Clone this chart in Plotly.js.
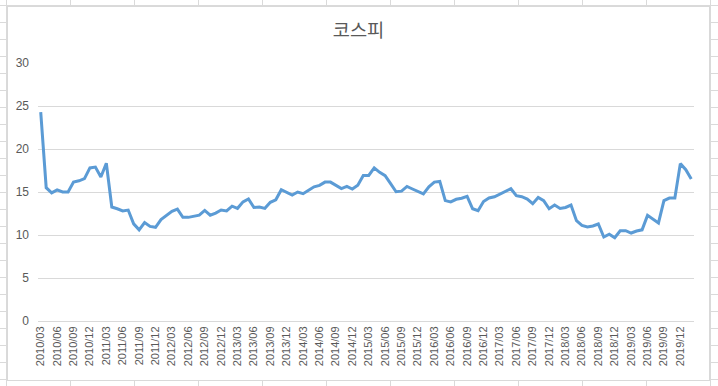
<!DOCTYPE html>
<html>
<head>
<meta charset="utf-8">
<script src="https://cdn.plot.ly/plotly-3.0.1.min.js"></script>
<style>
  html, body { margin: 0; padding: 0; width: 718px; height: 386px; overflow: hidden; }
  body {
    background-color: #ffffff;
    background-image:
      repeating-linear-gradient(to right, transparent 0px, transparent 6px, #dadada 6px, #dadada 7px, transparent 7px, transparent 64px),
      repeating-linear-gradient(to bottom, transparent 0px, transparent 5px, #dadada 5px, #dadada 6px, transparent 6px, transparent 17px);
  }
  #frame {
    position: absolute; left: 7px; top: 6px; width: 701px; height: 373px;
    border: 1px solid #d9d9d9; background: #ffffff;
  }
  #chart { width: 701px; height: 373px; }
</style>
</head>
<body>
<div id="frame"><div id="chart"></div></div>
<script>
// Months (categories)
const months = [
  "2010/03","2010/04","2010/05","2010/06","2010/07","2010/08","2010/09","2010/10","2010/11","2010/12",
  "2011/01","2011/02","2011/03","2011/04","2011/05","2011/06","2011/07","2011/08","2011/09","2011/10","2011/11","2011/12",
  "2012/01","2012/02","2012/03","2012/04","2012/05","2012/06","2012/07","2012/08","2012/09","2012/10","2012/11","2012/12",
  "2013/01","2013/02","2013/03","2013/04","2013/05","2013/06","2013/07","2013/08","2013/09","2013/10","2013/11","2013/12",
  "2014/01","2014/02","2014/03","2014/04","2014/05","2014/06","2014/07","2014/08","2014/09","2014/10","2014/11","2014/12",
  "2015/01","2015/02","2015/03","2015/04","2015/05","2015/06","2015/07","2015/08","2015/09","2015/10","2015/11","2015/12",
  "2016/01","2016/02","2016/03","2016/04","2016/05","2016/06","2016/07","2016/08","2016/09","2016/10","2016/11","2016/12",
  "2017/01","2017/02","2017/03","2017/04","2017/05","2017/06","2017/07","2017/08","2017/09","2017/10","2017/11","2017/12",
  "2018/01","2018/02","2018/03","2018/04","2018/05","2018/06","2018/07","2018/08","2018/09","2018/10","2018/11","2018/12",
  "2019/01","2019/02","2019/03","2019/04","2019/05","2019/06","2019/07","2019/08","2019/09","2019/10","2019/11","2019/12",
  "2020/01","2020/02"
];

// KOSPI values
const kospi = [
  24.3, 15.5, 14.9, 15.25, 15.0, 15.0, 16.15, 16.3, 16.55, 17.8,
  17.9, 16.75, 18.35, 13.25, 13.05, 12.8, 12.9, 11.3, 10.6, 11.45, 11.0, 10.9,
  11.8, 12.25, 12.75, 13.0, 12.05, 12.05, 12.15, 12.3, 12.85, 12.3, 12.55, 12.9,
  12.8, 13.35, 13.1, 13.85, 14.2, 13.2, 13.25, 13.1, 13.8, 14.1, 15.27, 15.0,
  14.65, 15.0, 14.8, 15.2, 15.6, 15.77, 16.15, 16.15, 15.77, 15.4, 15.65, 15.35,
  15.8, 16.93, 16.93, 17.8, 17.28, 16.9, 15.97, 15.03, 15.1, 15.65, 15.35, 15.1,
  14.77, 15.6, 16.15, 16.23, 14.0, 13.85, 14.15, 14.27, 14.5, 13.05, 12.83, 13.9,
  14.3, 14.45, 14.77, 15.0, 15.38, 14.57, 14.45, 14.18, 13.64, 14.37, 14.0, 13.05,
  13.48, 13.08, 13.2, 13.48, 11.66, 11.12, 10.93, 11.05, 11.28, 9.77, 10.1, 9.69,
  10.5, 10.5, 10.23, 10.46, 10.6, 12.28, 11.81, 11.4, 14.0, 14.3, 14.3, 18.3,
  17.6, 16.5
];

// Tick labels: every third month
const tickLabels = months.filter((m, i) => i % 3 === 0);

const yTicks = [0, 5, 10, 15, 20, 25, 30];

const trace = {
  x: months,
  y: kospi,
  type: 'scatter',
  mode: 'lines',
  line: { color: '#5b9bd5', width: 3 },
  hoverinfo: 'x+y'
};

const layout = {
  width: 701,
  height: 373,
  margin: { l: 30, r: 15, t: 56, b: 59, pad: 0 },
  paper_bgcolor: '#ffffff',
  plot_bgcolor: '#ffffff',
  showlegend: false,
  title: {
    text: '코스피',
    font: { family: '"Noto Sans CJK KR", "Noto Sans", sans-serif', size: 18.7, color: '#595959' },
    x: 0.5, xanchor: 'center', xref: 'container',
    y: 0.937, yref: 'container', yanchor: 'middle',
    pad: { t: 0, b: 0 },
    automargin: false
  },
  xaxis: {
    type: 'category',
    range: [-0.5, months.length - 0.5],
    tickmode: 'array',
    tickvals: tickLabels,
    ticktext: tickLabels,
    tickangle: -90,
    ticks: '',
    showgrid: false,
    showline: true,
    linecolor: '#d9d9d9',
    linewidth: 1,
    zeroline: false,
    tickfont: { family: '"Liberation Sans", Arial, sans-serif', size: 11, color: '#595959' },
    fixedrange: true
  },
  yaxis: {
    range: [0, 30],
    tickmode: 'array',
    tickvals: yTicks,
    ticktext: yTicks.map(String),
    showgrid: true,
    gridcolor: '#d9d9d9',
    gridwidth: 1,
    zeroline: false,
    showline: false,
    ticks: '',
    ticklabelstandoff: 8,
    tickfont: { family: '"Liberation Sans", Arial, sans-serif', size: 12, color: '#595959' },
    fixedrange: true
  }
};

Plotly.newPlot('chart', [trace], layout, { staticPlot: true, displayModeBar: false });
</script>
</body>
</html>
